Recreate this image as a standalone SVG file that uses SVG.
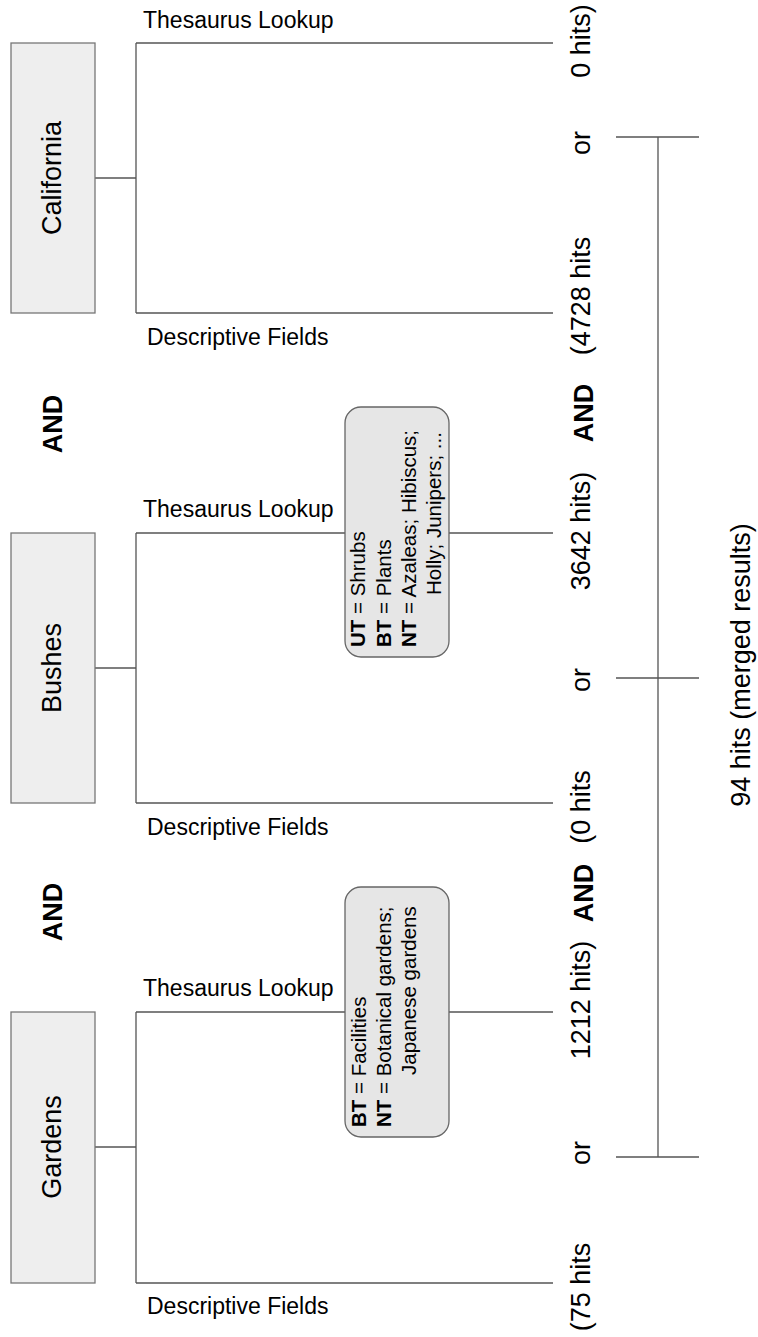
<svg xmlns="http://www.w3.org/2000/svg" width="758" height="1337" viewBox="0 0 758 1337">
<style>
text{font-family:"Liberation Sans",Arial,sans-serif;fill:#000}
.term{font-size:27px}
.lbl{font-size:23px}
.res{font-size:27px}
.and{font-size:27px;font-weight:bold}
.note{font-size:20.5px}
.b{font-weight:bold}
.box{fill:#eeeeee;stroke:#777;stroke-width:1.3}
.nbox{fill:#e6e6e6;stroke:#666;stroke-width:1.3}
.ln{stroke:#555;stroke-width:1.3;fill:none}
</style>
<rect width="758" height="1337" fill="#fff"/>
<g id="connectors">
<path class="ln" d="M95 178H136M136 43V313M136 43H553M136 313H553"/>
<path class="ln" d="M95 668H136M136 533V803M136 533H553M136 803H553"/>
<path class="ln" d="M95 1147H136M136 1012V1283M136 1012H553M136 1283H553"/>
<path class="ln" d="M658 137V1157M616 137H699M616 678H699M616 1157H699"/>
</g>
<g id="node-california">
<rect class="box" x="11" y="43" width="84" height="270"/>
<text class="term" text-anchor="middle" transform="translate(61,178) rotate(-90)">California</text>
<text class="lbl" x="143" y="28">Thesaurus Lookup</text>
<text class="lbl" x="147" y="345">Descriptive Fields</text>
</g>
<g id="node-bushes">
<rect class="box" x="11" y="533" width="84" height="270"/>
<text class="term" text-anchor="middle" transform="translate(61,668) rotate(-90)">Bushes</text>
<text class="lbl" x="143" y="517">Thesaurus Lookup</text>
<text class="lbl" x="147" y="835">Descriptive Fields</text>
</g>
<g id="node-gardens">
<rect class="box" x="11" y="1012" width="84" height="271"/>
<text class="term" text-anchor="middle" transform="translate(61,1147) rotate(-90)">Gardens</text>
<text class="lbl" x="143" y="996">Thesaurus Lookup</text>
<text class="lbl" x="147" y="1314">Descriptive Fields</text>
</g>
<g id="note-bushes">
<rect class="nbox" x="345" y="407" width="104" height="250" rx="16"/>
<text class="note" transform="translate(365,647) rotate(-90)"><tspan class="b">UT</tspan> = Shrubs</text>
<text class="note" transform="translate(391,647) rotate(-90)"><tspan class="b">BT</tspan> = Plants</text>
<text class="note" transform="translate(416,647) rotate(-90)"><tspan class="b">NT</tspan> = Azaleas; Hibiscus;</text>
<text class="note" transform="translate(441,595) rotate(-90)">Holly; Junipers; ...</text>
</g>
<g id="note-gardens">
<rect class="nbox" x="345" y="887" width="104" height="250" rx="16"/>
<text class="note" transform="translate(366,1127) rotate(-90)"><tspan class="b">BT</tspan> = Facilities</text>
<text class="note" transform="translate(391,1127) rotate(-90)"><tspan class="b">NT</tspan> = Botanical gardens;</text>
<text class="note" transform="translate(416,1075) rotate(-90)">Japanese gardens</text>
</g>
<g id="operators">
<text class="and" text-anchor="middle" transform="translate(62,424) rotate(-90)">AND</text>
<text class="and" text-anchor="middle" transform="translate(62,912) rotate(-90)">AND</text>
</g>
<g id="results">
<text class="res" text-anchor="middle" transform="translate(590,41) rotate(-90)">0 hits)</text>
<text class="res" text-anchor="middle" transform="translate(590,143) rotate(-90)">or</text>
<text class="res" text-anchor="middle" transform="translate(590,296) rotate(-90)">(4728 hits</text>
<text class="and" text-anchor="middle" transform="translate(593,413) rotate(-90)">AND</text>
<text class="res" text-anchor="middle" transform="translate(590,531) rotate(-90)">3642 hits)</text>
<text class="res" text-anchor="middle" transform="translate(590,680) rotate(-90)">or</text>
<text class="res" text-anchor="middle" transform="translate(590,807) rotate(-90)">(0 hits</text>
<text class="and" text-anchor="middle" transform="translate(593,893) rotate(-90)">AND</text>
<text class="res" text-anchor="middle" transform="translate(590,1000) rotate(-90)">1212 hits)</text>
<text class="res" text-anchor="middle" transform="translate(590,1153) rotate(-90)">or</text>
<text class="res" text-anchor="middle" transform="translate(590,1287) rotate(-90)">(75 hits</text>
<text class="res" text-anchor="middle" transform="translate(750,665) rotate(-90)">94 hits (merged results)</text>
</g>
</svg>
